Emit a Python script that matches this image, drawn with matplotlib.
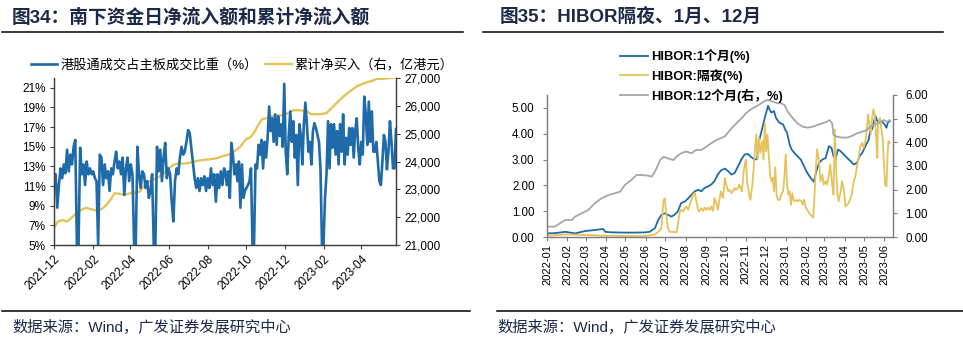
import matplotlib
matplotlib.use("Agg")
import matplotlib.pyplot as plt
import matplotlib.dates as mdates
from matplotlib.lines import Line2D
from matplotlib.ticker import FuncFormatter
import numpy as np
import pandas as pd

plt.rcParams["font.family"] = ["Liberation Sans", "Noto Sans CJK SC"]
plt.rcParams["axes.unicode_minus"] = False

# ---- 图34 data ----
# 港股通成交占主板成交比重 (%), daily, two stretches
share_part1 = [12.2, 12.2, 8.8, 11.1, 12.8, 11.8, 13.2, 12.3, 14.7, 12.5, 14.2, 13.2, 15.0, 15.7, 5.0, 5.0,
               14.9, 12.2, 13.2, 11.1, 13.5, 12.2, 12.8, 12.2, 12.5, 11.8, 11.5, 5.0, 14.2, 13.9, 11.1, 13.2,
               11.8, 12.5, 10.5, 12.8, 12.2, 13.5, 14.5, 12.8, 13.5, 12.2, 13.9, 10.1, 12.8, 13.9, 11.5, 13.2,
               12.2, 5.0, 5.0, 15.0, 12.2, 10.8, 12.5, 12.2, 10.8, 11.5, 9.8, 10.5, 12.2, 5.0, 5.0, 15.0,
               12.5, 14.7, 11.5, 13.9, 15.4, 11.8, 12.8, 12.2, 9.4, 7.4, 11.5, 12.8, 12.2, 13.9, 15.0, 14.2,
               14.5, 15.5, 16.7, 16.4, 14.9, 13.5, 11.8, 10.8, 11.8, 10.5, 11.8, 11.1, 12.0, 10.5, 11.8, 10.8,
               12.8, 11.1, 12.2, 9.4, 12.2, 10.8, 12.5, 11.1, 12.8]
share_part2 = [12.5, 11.1, 12.5, 9.8, 15.4, 14.2, 12.2, 13.2, 11.5, 13.5, 8.8, 13.2, 9.8, 10.5, 10.8, 11.1,
               11.5, 12.8, 5.0, 5.0, 13.2, 12.8, 15.2, 14.2, 15.7, 12.8, 15.5, 13.9, 15.9, 19.1, 16.6, 17.9,
               15.5, 18.3, 15.2, 18.1, 16.1, 17.3, 15.0, 21.4, 14.5, 12.2, 16.2, 18.6, 15.5, 17.6, 13.9, 16.2,
               11.1, 17.3, 16.2, 13.2, 17.3, 19.5, 17.3, 14.5, 15.5, 13.2, 16.6, 17.4, 16.9, 16.2, 15.5, 12.8,
               5.0, 5.0, 9.8, 12.2, 17.6, 12.8, 17.3, 14.9, 17.3, 14.2, 16.6, 13.2, 17.3, 14.5, 18.3, 13.2,
               15.9, 14.2, 16.9, 15.2, 16.9, 13.9, 16.6, 17.9, 14.9, 13.2, 15.5, 14.2, 20.1, 18.3, 15.2, 19.6,
               15.5, 18.6, 14.5, 14.5, 15.5, 13.5, 11.5, 11.1, 13.5, 16.2, 15.5, 12.7, 14.5, 17.6, 15.5, 12.8,
               12.8, 16.8]
share_dates = pd.DatetimeIndex(
    list(pd.date_range("2021-12-01", "2022-08-27", periods=len(share_part1)))
    + list(pd.date_range("2022-08-29", "2023-05-26", periods=len(share_part2))))
share_values = share_part1 + share_part2

# 累计净买入 (亿港元)
cum_dates = ["2021-12-01", "2021-12-07", "2021-12-15", "2021-12-21", "2021-12-28", "2022-01-05", "2022-01-13",
             "2022-01-21", "2022-01-29", "2022-02-06", "2022-02-14", "2022-02-22", "2022-03-02", "2022-03-07",
             "2022-03-15", "2022-03-23", "2022-03-31", "2022-04-08", "2022-04-16", "2022-04-21", "2022-04-29",
             "2022-05-07", "2022-05-15", "2022-05-23", "2022-05-28", "2022-06-08", "2022-06-16", "2022-06-24",
             "2022-07-04", "2022-07-15", "2022-07-26", "2022-08-05", "2022-08-16", "2022-08-26", "2022-09-06",
             "2022-09-16", "2022-09-22", "2022-09-30", "2022-10-08", "2022-10-13", "2022-10-21", "2022-10-26",
             "2022-11-03", "2022-11-11", "2022-11-19", "2022-11-27", "2022-12-05", "2022-12-15", "2022-12-26",
             "2023-01-05", "2023-01-12", "2023-01-20", "2023-01-28", "2023-02-05", "2023-02-13", "2023-02-21",
             "2023-03-04", "2023-03-14", "2023-03-25", "2023-04-02", "2023-04-10", "2023-04-18", "2023-04-26",
             "2023-05-06", "2023-05-17", "2023-05-26"]
cum_values = [21600, 21840, 21900, 21840, 21960, 22140, 22260, 22340, 22280, 22240, 22280, 22440, 22680, 22860,
              22840, 22800, 22860, 22880, 22920, 23100, 23280, 23340, 23440, 23540, 23700, 23880, 23940, 23920,
              23960, 24020, 24060, 24080, 24120, 24200, 24270, 24420, 24540, 24780, 24880, 25020, 25350, 25520,
              25560, 25620, 25660, 25660, 25720, 25840, 25840, 25800, 25700, 25700, 25700, 25740, 25920, 26100,
              26340, 26520, 26700, 26780, 26840, 26900, 26970, 26970, 27000, 27020]

# ---- 图35 data ----
m1_dates = ["2022-01-03", "2022-01-13", "2022-01-29", "2022-02-13", "2022-02-28", "2022-03-15", "2022-03-28",
            "2022-03-31", "2022-04-10", "2022-04-30", "2022-05-15", "2022-05-31", "2022-06-07", "2022-06-15",
            "2022-06-20", "2022-06-25", "2022-06-30", "2022-07-05", "2022-07-10", "2022-07-15", "2022-07-20",
            "2022-07-25", "2022-07-31", "2022-08-05", "2022-08-10", "2022-08-15", "2022-08-20", "2022-08-25",
            "2022-08-30", "2022-09-04", "2022-09-09", "2022-09-14", "2022-09-19", "2022-09-24", "2022-09-30",
            "2022-10-05", "2022-10-10", "2022-10-15", "2022-10-20", "2022-10-25", "2022-10-30", "2022-11-04",
            "2022-11-09", "2022-11-14", "2022-11-18", "2022-11-20", "2022-11-25", "2022-11-30", "2022-12-05",
            "2022-12-07", "2022-12-10", "2022-12-14", "2022-12-17", "2022-12-22", "2022-12-28", "2022-12-31",
            "2023-01-03", "2023-01-07", "2023-01-10", "2023-01-14", "2023-01-19", "2023-01-24", "2023-01-29",
            "2023-02-03", "2023-02-08", "2023-02-13", "2023-02-16", "2023-02-21", "2023-02-26", "2023-03-03",
            "2023-03-08", "2023-03-12", "2023-03-15", "2023-03-18", "2023-03-22", "2023-03-26", "2023-03-31",
            "2023-04-05", "2023-04-10", "2023-04-15", "2023-04-20", "2023-04-24", "2023-04-28", "2023-05-03",
            "2023-05-08", "2023-05-10", "2023-05-13", "2023-05-18", "2023-05-21", "2023-05-25", "2023-05-28",
            "2023-06-01", "2023-06-04", "2023-06-06", "2023-06-09"]
m1_values = [0.14, 0.15, 0.20, 0.14, 0.23, 0.27, 0.31, 0.20, 0.18, 0.17, 0.17, 0.18, 0.20, 0.34, 0.66, 0.86,
             0.92, 0.86, 0.79, 0.86, 0.99, 1.31, 1.38, 1.50, 1.64, 1.77, 1.83, 1.77, 1.90, 1.96, 2.03, 2.16,
             2.42, 2.58, 2.65, 2.55, 2.42, 2.48, 2.74, 3.00, 3.19, 3.22, 3.10, 3.00, 3.02, 3.60, 4.10, 4.62,
             5.08, 4.95, 4.82, 4.88, 4.62, 4.43, 4.36, 4.17, 4.04, 3.58, 3.39, 3.26, 3.13, 3.00, 2.74, 2.48,
             2.29, 2.14, 2.48, 2.87, 3.00, 3.06, 3.52, 3.45, 3.13, 3.00, 3.39, 3.32, 3.19, 3.06, 2.94, 2.81,
             2.87, 3.13, 3.26, 3.52, 3.78, 4.10, 4.17, 4.69, 4.49, 4.43, 4.49, 4.36, 4.23, 4.43, 4.49]

on_dates = ["2022-01-03", "2022-01-29", "2022-02-28", "2022-03-31", "2022-04-30", "2022-05-31", "2022-06-15",
            "2022-06-20", "2022-06-25", "2022-06-28", "2022-06-30", "2022-07-03", "2022-07-05", "2022-07-08",
            "2022-07-13", "2022-07-18", "2022-07-20", "2022-07-23", "2022-07-25", "2022-07-28", "2022-07-31",
            "2022-08-02", "2022-08-05", "2022-08-07", "2022-08-10", "2022-08-12", "2022-08-15", "2022-08-17",
            "2022-08-20", "2022-08-22", "2022-08-25", "2022-08-28", "2022-08-30", "2022-09-02", "2022-09-04",
            "2022-09-07", "2022-09-09", "2022-09-12", "2022-09-14", "2022-09-17", "2022-09-19", "2022-09-22",
            "2022-09-24", "2022-09-27", "2022-09-30", "2022-10-02", "2022-10-05", "2022-10-07", "2022-10-10",
            "2022-10-12", "2022-10-15", "2022-10-17", "2022-10-20", "2022-10-22", "2022-10-26", "2022-10-29",
            "2022-11-01", "2022-11-03", "2022-11-06", "2022-11-08", "2022-11-11", "2022-11-13", "2022-11-15",
            "2022-11-17", "2022-11-19", "2022-11-21", "2022-11-23", "2022-11-26", "2022-11-28", "2022-11-30",
            "2022-12-02", "2022-12-04", "2022-12-06", "2022-12-08", "2022-12-10", "2022-12-12", "2022-12-14",
            "2022-12-16", "2022-12-18", "2022-12-20", "2022-12-23", "2022-12-25", "2022-12-28", "2022-12-30",
            "2023-01-01", "2023-01-03", "2023-01-05", "2023-01-07", "2023-01-09", "2023-01-11", "2023-01-13",
            "2023-01-15", "2023-01-17", "2023-01-19", "2023-01-22", "2023-01-25", "2023-01-27", "2023-01-29",
            "2023-02-01", "2023-02-03", "2023-02-06", "2023-02-08", "2023-02-12", "2023-02-14", "2023-02-16",
            "2023-02-18", "2023-02-21", "2023-02-23", "2023-02-26", "2023-02-28", "2023-03-03", "2023-03-05",
            "2023-03-08", "2023-03-10", "2023-03-13", "2023-03-15", "2023-03-17", "2023-03-19", "2023-03-21",
            "2023-03-23", "2023-03-26", "2023-03-28", "2023-03-31", "2023-04-02", "2023-04-05", "2023-04-07",
            "2023-04-10", "2023-04-12", "2023-04-15", "2023-04-17", "2023-04-20", "2023-04-23", "2023-04-25",
            "2023-04-28", "2023-04-30", "2023-05-03", "2023-05-05", "2023-05-07", "2023-05-09", "2023-05-11",
            "2023-05-13", "2023-05-15", "2023-05-17", "2023-05-19", "2023-05-21", "2023-05-22", "2023-05-25",
            "2023-05-27", "2023-05-29", "2023-05-31", "2023-06-02", "2023-06-04", "2023-06-06", "2023-06-07",
            "2023-06-09"]
on_values = [0.05, 0.10, 0.08, 0.05, 0.04, 0.04, 0.10, 0.20, 0.34, 1.38, 1.50, 0.73, 0.34, 0.20, 0.20, 0.18,
             0.47, 0.99, 1.05, 0.99, 1.12, 1.18, 1.05, 1.25, 1.44, 1.64, 1.70, 1.44, 1.05, 0.99, 1.12, 1.01,
             1.14, 1.05, 1.14, 1.05, 1.18, 1.01, 1.51, 1.31, 1.05, 1.51, 1.77, 1.51, 2.29, 2.03, 1.77, 1.83,
             1.70, 1.77, 1.90, 1.83, 1.90, 2.03, 1.77, 2.61, 3.00, 2.16, 1.64, 1.44, 2.03, 2.68, 3.45, 3.97,
             3.00, 3.84, 3.26, 3.71, 3.00, 4.40, 3.32, 3.97, 3.19, 2.42, 2.16, 2.29, 1.77, 2.70, 1.64, 1.44,
             1.44, 1.64, 1.77, 2.35, 3.20, 2.03, 1.64, 1.77, 1.25, 1.70, 1.44, 1.38, 1.44, 1.38, 1.44, 1.38,
             1.25, 1.44, 1.12, 1.05, 0.92, 0.86, 0.75, 1.64, 2.68, 3.40, 2.94, 2.16, 2.42, 2.03, 2.16, 2.03,
             2.42, 2.81, 2.03, 1.64, 4.17, 2.68, 1.64, 1.38, 1.77, 2.16, 1.83, 1.18, 1.25, 1.31, 1.51, 1.64,
             2.16, 2.29, 2.74, 3.13, 3.52, 3.65, 3.45, 3.71, 4.23, 4.75, 4.36, 3.97, 4.62, 4.95, 4.75, 3.97,
             3.06, 4.36, 4.62, 4.23, 3.84, 2.94, 2.03, 1.96, 3.32, 3.71, 3.65]

m12_dates = ["2022-01-03", "2022-01-13", "2022-01-21", "2022-01-29", "2022-02-08", "2022-02-13", "2022-02-23",
             "2022-03-05", "2022-03-15", "2022-03-25", "2022-04-05", "2022-04-15", "2022-04-23", "2022-04-30",
             "2022-05-10", "2022-05-18", "2022-05-26", "2022-06-05", "2022-06-10", "2022-06-15", "2022-06-23",
             "2022-06-28", "2022-07-05", "2022-07-13", "2022-07-18", "2022-07-25", "2022-08-02", "2022-08-10",
             "2022-08-17", "2022-08-25", "2022-09-02", "2022-09-09", "2022-09-17", "2022-09-30", "2022-10-10",
             "2022-10-20", "2022-10-25", "2022-11-02", "2022-11-09", "2022-11-19", "2022-11-30", "2022-12-05",
             "2022-12-12", "2022-12-20", "2022-12-25", "2022-12-30", "2023-01-04", "2023-01-12", "2023-01-19",
             "2023-01-27", "2023-02-03", "2023-02-11", "2023-02-18", "2023-02-26", "2023-03-05", "2023-03-09",
             "2023-03-13", "2023-03-15", "2023-03-20", "2023-03-28", "2023-04-05", "2023-04-12", "2023-04-20",
             "2023-04-28", "2023-05-05", "2023-05-10", "2023-05-15", "2023-05-21", "2023-05-26", "2023-05-31",
             "2023-06-05", "2023-06-09"]
m12_values = [0.44, 0.44, 0.58, 0.72, 0.72, 0.86, 1.00, 1.14, 1.42, 1.63, 1.77, 1.85, 1.92, 2.20, 2.41, 2.62,
              2.62, 2.59, 2.55, 2.76, 3.25, 3.39, 3.32, 3.25, 3.39, 3.54, 3.61, 3.54, 3.68, 3.68, 3.82, 3.96,
              4.10, 4.25, 4.59, 4.87, 5.00, 5.25, 5.40, 5.55, 5.75, 5.79, 5.72, 5.65, 5.65, 5.58, 5.30, 5.01,
              4.80, 4.66, 4.62, 4.66, 4.73, 4.80, 4.87, 4.94, 4.80, 4.31, 4.24, 4.20, 4.20, 4.27, 4.38, 4.45,
              4.52, 4.66, 4.73, 4.80, 4.87, 4.94, 4.87, 4.94]

BLUE = "#1f6aa8"
GOLD = "#e6c25a"
GREY = "#a6a6a6"
NAVY = "#1b2a49"

W, H = 963, 346
fig = plt.figure(figsize=(W / 100, H / 100), dpi=100)


def fx(px):
    return px / W


def fy(py):
    return 1 - py / H


# ---- left panel ----
ax = fig.add_axes([fx(54), fy(245), (396 - 54) / W, (245 - 78) / H])
ax2 = ax.twinx()
ax.set_zorder(ax2.get_zorder() + 1)
ax.patch.set_visible(False)

l1, = ax.plot(share_dates, share_values, color=BLUE, lw=1.9, label="港股通成交占主板成交比重（%）")
l2, = ax2.plot(pd.to_datetime(cum_dates), cum_values, color=GOLD, lw=1.7, label="累计净买入（右，亿港元）")

ax.set_xlim(pd.Timestamp("2021-12-01"), pd.Timestamp("2023-05-26"))
ax.set_ylim(5, 22)
ax.set_yticks(np.arange(5, 22, 2))
ax.yaxis.set_major_formatter(FuncFormatter(lambda v, p: f"{v:.0f}%"))
ax2.set_ylim(21000, 27000)
ax2.set_yticks(np.arange(21000, 27001, 1000))
ax2.yaxis.set_major_formatter(FuncFormatter(lambda v, p: f"{v:,.0f}"))
ax.xaxis.set_major_locator(mdates.MonthLocator(bymonth=[2, 4, 6, 8, 10, 12]))
ax.xaxis.set_major_formatter(mdates.DateFormatter("%Y-%m"))
for lab in ax.get_xticklabels():
    lab.set_rotation(45)
    lab.set_ha("right")
    lab.set_rotation_mode("anchor")

for a in (ax, ax2):
    a.spines["top"].set_visible(False)
    for s in ("left", "right", "bottom"):
        a.spines[s].set_color("#404040")
        a.spines[s].set_linewidth(0.9)
    a.tick_params(labelsize=8.5, length=3, width=0.8, color="#404040", pad=3)

fig.legend(handles=[l1, l2], loc="center left", bbox_to_anchor=(fx(31), fy(65)), ncol=2,
           frameon=False, fontsize=9.5, handlelength=2.0, handletextpad=0.2, columnspacing=0.6,
           borderaxespad=0, borderpad=0)

# ---- right panel ----
bx = fig.add_axes([fx(547), fy(237), (893 - 547) / W, (237 - 95) / H])
bx2 = bx.twinx()

r1, = bx.plot(pd.to_datetime(m1_dates), m1_values, color=BLUE, lw=1.3, label="HIBOR:1个月(%)")
r2, = bx.plot(pd.to_datetime(on_dates), on_values, color=GOLD, lw=1.3, label="HIBOR:隔夜(%)")
r3, = bx2.plot(pd.to_datetime(m12_dates), m12_values, color=GREY, lw=1.3, label="HIBOR:12个月(右，%)")

bx.set_xlim(pd.Timestamp("2022-01-01"), pd.Timestamp("2023-06-14"))
bx.set_ylim(0, 5.5)
bx.set_yticks(np.arange(0, 5.01, 1))
bx.yaxis.set_major_formatter(FuncFormatter(lambda v, p: f"{v:.2f}"))
bx2.set_ylim(0, 6)
bx2.set_yticks(np.arange(0, 6.01, 1))
bx2.yaxis.set_major_formatter(FuncFormatter(lambda v, p: f"{v:.2f}"))
bx.xaxis.set_major_locator(mdates.MonthLocator())
bx.xaxis.set_major_formatter(mdates.DateFormatter("%Y-%m"))
for lab in bx.get_xticklabels():
    lab.set_rotation(90)

for a in (bx, bx2):
    a.spines["top"].set_visible(False)
    for s in ("left", "right", "bottom"):
        a.spines[s].set_color("#808080")
        a.spines[s].set_linewidth(0.9)
    a.tick_params(axis="y", labelsize=8.3, length=3, width=0.8, color="#808080", pad=6)
bx.tick_params(axis="x", labelsize=8, length=3, width=0.8, color="#808080", pad=2)

fig.legend(handles=[r1, r2, r3], loc="upper left", bbox_to_anchor=(fx(620), fy(49)), ncol=1,
           frameon=False, prop={"size": 9.3, "weight": "bold"}, handlelength=2.2, handletextpad=0.2,
           labelspacing=0.45, borderaxespad=0, borderpad=0)

# ---- titles, rules and sources ----
fig.text(fx(12), fy(17), "图34：南下资金日净流入额和累计净流入额", fontsize=13.5, fontweight="bold",
         color=NAVY, va="center", ha="left")
fig.text(fx(500), fy(17), "图35：HIBOR隔夜、1月、12月", fontsize=13.5, fontweight="bold",
         color=NAVY, va="center", ha="left")
for x0, x1, y in [(2, 463, 32), (483, 943, 32), (2, 470, 311), (497, 963, 311)]:
    fig.add_artist(Line2D([fx(x0), fx(x1)], [fy(y), fy(y)], transform=fig.transFigure,
                          color="black", lw=1.1))
fig.text(fx(12), fy(327), "数据来源：Wind，广发证券发展研究中心", fontsize=11, color=NAVY,
         va="center", ha="left")
fig.text(fx(497), fy(327), "数据来源：Wind，广发证券发展研究中心", fontsize=11, color=NAVY,
         va="center", ha="left")

fig.savefig("out.png", dpi=100)
